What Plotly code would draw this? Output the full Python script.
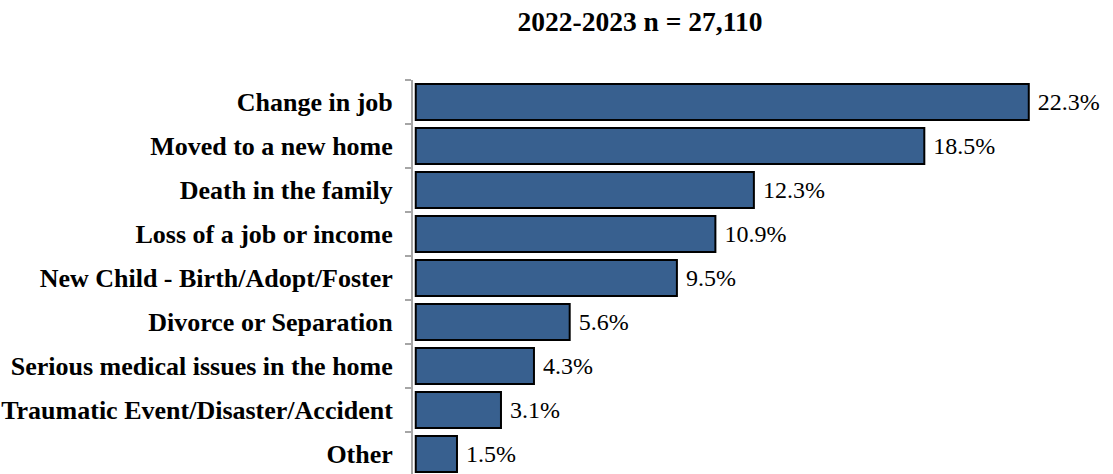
import plotly.graph_objects as go

categories = [
    "Change in job",
    "Moved to a new home",
    "Death in the family",
    "Loss of a job or income",
    "New Child - Birth/Adopt/Foster",
    "Divorce or Separation",
    "Serious medical issues in the home",
    "Traumatic Event/Disaster/Accident",
    "Other",
]
percentages = [22.3, 18.5, 12.3, 10.9, 9.5, 5.6, 4.3, 3.1, 1.5]
title_text = "2022-2023 n = 27,110"

serif = "Liberation Serif, Times New Roman, serif"

fig = go.Figure(
    go.Bar(
        y=categories,
        x=percentages,
        orientation="h",
        width=0.82,
        marker=dict(color="#38608F", line=dict(color="#000000", width=2)),
        text=[f" {v:.1f}%" for v in percentages],
        textposition="outside",
        textfont=dict(family=serif, size=24, color="#000000"),
        cliponaxis=False,
    )
)

fig.update_layout(
    width=1113,
    height=474,
    margin=dict(l=413, r=10, t=80, b=0),
    paper_bgcolor="white",
    plot_bgcolor="white",
    showlegend=False,
    title=dict(
        text=f"<b>{title_text}</b>",
        font=dict(family=serif, size=27.5, color="#000000"),
        xref="container",
        x=0.575,
        xanchor="center",
        yref="container",
        y=0.955,
        yanchor="middle",
    ),
    xaxis=dict(
        range=[-0.1, 25],
        visible=False,
        showgrid=False,
        zeroline=False,
    ),
    yaxis=dict(
        range=[8.455, -0.5],
        showline=True,
        linecolor="#A6A6A6",
        linewidth=2,
        ticks="outside",
        tickson="boundaries",
        ticklen=6,
        tickcolor="#A6A6A6",
        tickwidth=2,
        ticklabelstandoff=13,
        showgrid=False,
        zeroline=False,
        tickfont=dict(family=serif, size=26, color="#000000"),
    ),
    bargap=0.18,
)

# category labels in bold
fig.update_yaxes(
    tickmode="array",
    tickvals=categories,
    ticktext=[f"<b>{c}</b>" for c in categories],
)

fig.write_html("out.html")
